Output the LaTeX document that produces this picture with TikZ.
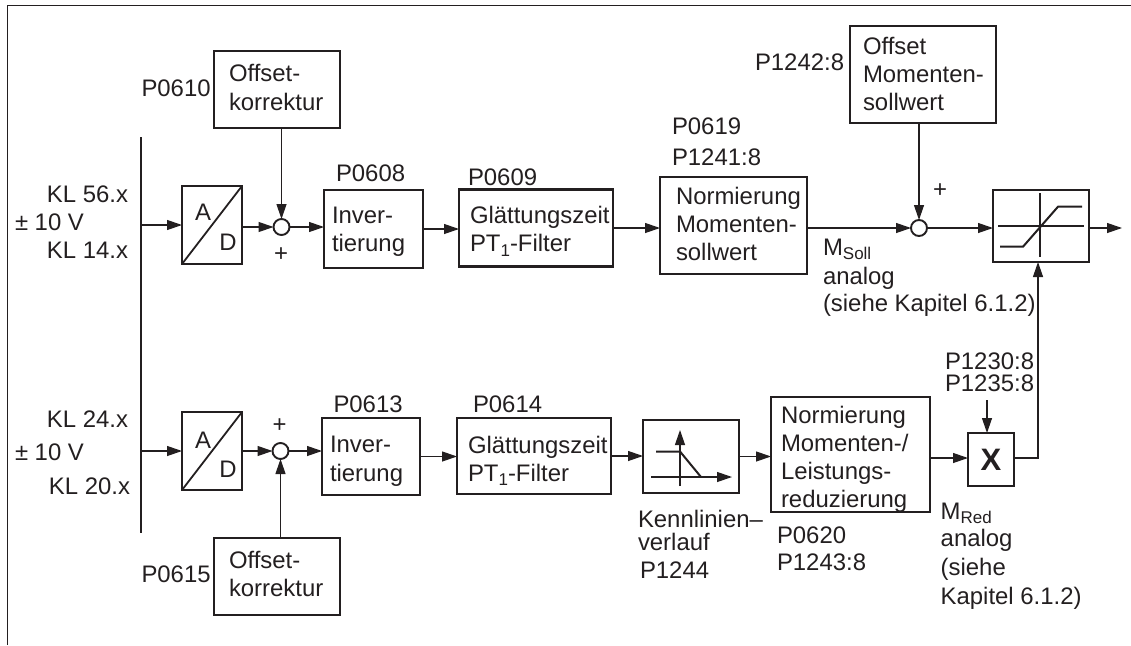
\documentclass[tikz,border=0pt]{standalone}
\usepackage{fontspec}
\setmainfont{Liberation Sans}
\usepackage{xcolor}
\usepackage{tikz}
\usetikzlibrary{arrows.meta}
\definecolor{inkdark}{HTML}{231F20}
\newcommand{\lowsub}[1]{\raisebox{-4.5pt}{\fontsize{17}{17}\selectfont #1}}

\begin{document}
\begin{tikzpicture}[x=1pt, y=-1pt, color=inkdark,
    >={Stealth[length=15pt, width=10pt, inset=0pt]},
    every node/.style={font=\fontsize{23.9}{28.3}\selectfont, inner sep=0pt, outer sep=0pt},
    blockbox/.style n args={4}{draw, line width=2.2pt, text width=#1pt, text height=#4pt,
        text depth=#2pt-#4pt, align=left, execute at begin node={\leftskip=#3pt\relax}},
    plainbox/.style 2 args={draw, line width=2.2pt, minimum width=#1pt, minimum height=#2pt},
    sumnode/.style={draw, circle, line width=1.9pt, minimum size=16pt},
    parlabel/.style={anchor=base west},
    klabel/.style={anchor=base east},
    signal/.style={->, line width=1.2pt},
    iconline/.style={line width=2pt}]
    \useasboundingbox (0,0) rectangle (1131,645);

    % frame and input bar
    \draw[line width=1.5pt] (7.5,645) -- (7.5,5.5) -- (1131,5.5);
    \coordinate (bartop) at (141,137);
    \coordinate (barbot) at (141,533);
    \draw[line width=2.2pt] (bartop) -- (barbot);

    % upper path
    \node[plainbox={60}{78}] (ad1) at (212,225) {};
    \node[sumnode] (sum1) at (281.5,227) {};
    \node[blockbox={126}{77}{15}{30.7}] (offset1) at (277,89.5) {Offset-\\korrektur};
    \node[blockbox={99}{78}{8}{33}] (inv1) at (373.5,229) {Inver-\\tierung};
    \node[blockbox={154}{77}{11}{34}] (glatt1) at (536,228) {Glättungszeit\\PT\lowsub{1}-Filter};
    \node[blockbox={147}{97}{16}{27}] (norm1) at (733.5,225.5) {Normierung\\Momenten-\\sollwert};
    \node[blockbox={146}{97}{13}{28}] (offset2) at (923,74.5) {Offset\\Momenten-\\sollwert};
    \node[sumnode] (sum2) at (919,228) {};
    \node[plainbox={96}{72}] (lim) at (1041,226) {};
    \coordinate (outend) at (1122,228);

    % lower path
    \node[plainbox={60}{78}] (ad2) at (212,451) {};
    \node[sumnode] (sum3) at (280.5,451) {};
    \node[blockbox={126}{77}{15}{30}] (offset3) at (277,576.5) {Offset-\\korrektur};
    \node[blockbox={98}{77}{8}{34.7}] (inv2) at (371,456.5) {Inver-\\tierung};
    \node[blockbox={154}{76}{11}{35}] (glatt2) at (534,456) {Glättungszeit\\PT\lowsub{1}-Filter};
    \node[plainbox={96}{73}] (kenn) at (691,456.5) {};
    \node[blockbox={159}{115}{10}{26}] (norm2) at (850.5,454.5) {Normierung\\Momenten-/\\Leistungs-\\reduzierung};
    \node[plainbox={46}{53}, font=\fontsize{31}{31}\selectfont\bfseries] (mult) at (991,459.5) {X};
    \coordinate (multin) at (987,400);
    \coordinate (corner) at (1038,458);

    % converter letters
    \draw[line width=1.8pt] (ad1.south west) -- (ad1.north east);
    \draw[line width=1.8pt] (ad2.south west) -- (ad2.north east);
    \node (ad1a) at (203,212) {A};
    \node (ad1d) at (228,242) {D};
    \node (ad2a) at (203,440) {A};
    \node (ad2d) at (228,469) {D};

    % connectors
    \draw[signal] (ad1.west -| bartop) -- (ad1.west);
    \draw[signal] (ad1.east |- sum1) -- (sum1.west);
    \draw[signal] (offset1.south -| sum1) -- (sum1.north);
    \draw[signal] (sum1.east) -- (sum1.east -| inv1.west);
    \draw[signal] (inv1.east) -- (inv1.east -| glatt1.west);
    \draw[signal] (glatt1.east) -- (glatt1.east -| norm1.west);
    \draw[signal] (norm1.east |- sum2) -- (sum2.west);
    \draw[signal] (offset2.south -| sum2) -- (sum2.north);
    \draw[signal] (sum2.east) -- (sum2.east -| lim.west);
    \draw[signal] (lim.east |- outend) -- (outend);
    \draw[signal] (ad2.west -| bartop) -- (ad2.west);
    \draw[signal] (ad2.east) -- (sum3.west);
    \draw[signal] (offset3.north -| sum3) -- (sum3.south);
    \draw[signal] (sum3.east) -- (sum3.east -| inv2.west);
    \draw[signal] (inv2.east) -- (inv2.east -| glatt2.west);
    \draw[signal] (glatt2.east) -- (glatt2.east -| kenn.west);
    \draw[signal] (kenn.east) -- (kenn.east -| norm2.west);
    \draw[signal] (norm2.east |- corner) -- (corner -| mult.west);
    \draw[signal] (multin) -- (multin |- mult.north);
    \draw[signal] (mult.east |- corner) -- (corner) -- (corner |- lim.south);

    % limiter and characteristic icons
    \draw[iconline] (998,226) -- (1084,226);
    \draw[iconline] (1040,193) -- (1040,257);
    \draw[iconline] (1000,246.7) -- (1023,246.7) -- (1058,206.7) -- (1082,206.7);
    \draw[signal] (680,486) -- (680,430);
    \draw[signal] (651,477) -- (732,477);
    \draw[iconline] (656,451.5) -- (680,451.5) -- (701,477);

    % terminal labels
    \node[klabel] (kl56) at (128,202) {KL 56.x};
    \node[parlabel] (volt1) at (15,230.7) {± 10 V};
    \node[klabel] (kl14) at (128,258) {KL 14.x};
    \node[klabel] (kl24) at (128,427) {KL 24.x};
    \node[parlabel] (volt2) at (15,460) {± 10 V};
    \node[klabel] (kl20) at (130,494) {KL 20.x};

    % signs
    \node (plus1) at (281,255) {+};
    \node (plus2) at (940,190.7) {+};
    \node (plus3) at (279.5,426) {+};

    % parameter labels
    \node[parlabel] (p0610) at (141.5,96) {P0610};
    \node[parlabel] (p0615) at (141.5,582.7) {P0615};
    \node[parlabel] (p0608) at (336,181.7) {P0608};
    \node[parlabel] (p0609) at (468,185) {P0609};
    \node[parlabel] (p0613) at (333.5,412.7) {P0613};
    \node[parlabel] (p0614) at (473,412.7) {P0614};
    \node[parlabel] (p0619) at (672,134) {P0619};
    \node[parlabel] (p1241) at (672,165.7) {P1241:8};
    \node[parlabel] (p1242) at (755,70.7) {P1242:8};
    \node[parlabel] (p1230) at (945,369) {P1230:8};
    \node[parlabel] (p1235) at (945,391.7) {P1235:8};
    \node[parlabel] (p0620) at (777,543) {P0620};
    \node[parlabel] (p1243) at (777,570.7) {P1243:8};
    \node[parlabel] (p1244) at (640,578) {P1244};

    % signal names
    \node[anchor=north west, align=left] (msoll) at (823,239) {M\lowsub{Soll}\\[0.5pt]analog\\[-1pt](siehe Kapitel 6.1.2)};
    \node[anchor=north west, align=left] (mred) at (940.7,503) {M\lowsub{Red}\\[-1pt]analog\\[0.7pt](siehe\\[0.7pt]Kapitel 6.1.2)};
    \node[anchor=north west, align=left] (kennname) at (638,510) {Kennlinien--\\[-5pt]verlauf};
\end{tikzpicture}
\end{document}
